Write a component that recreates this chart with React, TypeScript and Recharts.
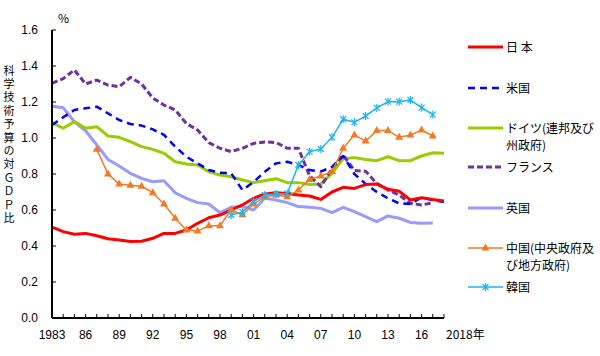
import { LineChart, Line, XAxis, YAxis } from "recharts";

const years = [
  1983, 1984, 1985, 1986, 1987, 1988, 1989, 1990, 1991, 1992, 1993, 1994,
  1995, 1996, 1997, 1998, 1999, 2000, 2001, 2002, 2003, 2004, 2005, 2006,
  2007, 2008, 2009, 2010, 2011, 2012, 2013, 2014, 2015, 2016, 2017, 2018,
];

const japan = [
  0.505, 0.48, 0.465, 0.47, 0.457, 0.44, 0.433, 0.425, 0.426, 0.443, 0.47, 0.47,
  0.489, 0.526, 0.557, 0.572, 0.6, 0.628, 0.665, 0.689, 0.696, 0.692, 0.683, 0.678,
  0.659, 0.7, 0.726, 0.72, 0.741, 0.744, 0.715, 0.704, 0.656, 0.668, 0.658, 0.65,
];
const usa = [
  1.072, 1.115, 1.156, 1.165, 1.174, 1.137, 1.1, 1.078, 1.069, 1.048, 1.017, 0.952,
  0.896, 0.859, 0.822, 0.807, 0.804, 0.711, 0.755, 0.813, 0.859, 0.868, 0.85, 0.822,
  0.813, 0.84, 0.9, 0.8, 0.745, 0.7, 0.665, 0.637, 0.633, 0.67, 0.655, 0.645,
];
const germany = [
  1.085, 1.054, 1.091, 1.054, 1.063, 1.011, 1.004, 0.98, 0.952, 0.937, 0.915, 0.868,
  0.856, 0.85, 0.813, 0.794, 0.785, 0.767, 0.752, 0.763, 0.774, 0.752, 0.752, 0.742,
  0.744, 0.804, 0.885, 0.891, 0.881, 0.874, 0.896, 0.874, 0.874, 0.9, 0.918, 0.915,
];
const france = [
  1.304, 1.33, 1.378, 1.3, 1.322, 1.294, 1.285, 1.337, 1.3, 1.222, 1.183, 1.156,
  1.08, 1.044, 0.974, 0.943, 0.924, 0.943, 0.97, 0.978, 0.975, 0.943, 0.943, 0.79,
  0.73, 0.83, 0.905, 0.82, 0.815, 0.748, 0.711, 0.683, 0.637, 0.628, 0.64, null,
];
const uk = [
  1.176, 1.168, 1.09, 1.04, 0.961, 0.881, 0.844, 0.804, 0.776, 0.757, 0.763, 0.696,
  0.665, 0.641, 0.633, 0.585, 0.615, 0.619, 0.6, 0.665, 0.656, 0.641, 0.619, 0.615,
  0.609, 0.585, 0.615, 0.591, 0.563, 0.535, 0.567, 0.554, 0.531, 0.526, 0.528, null,
];
const china = [
  null, null, null, null, 0.937, 0.8, 0.744, 0.738, 0.732, 0.696, 0.633, 0.554,
  0.489, 0.483, 0.513, 0.513, 0.6, 0.574, 0.633, 0.674, 0.683, 0.674, 0.711, 0.77,
  0.789, 0.813, 0.943, 1.017, 0.983, 1.041, 1.041, 1.004, 1.017, 1.044, 1.011, null,
];
const korea = [
  null, null, null, null, null, null, null, null, null, null, null, null,
  null, null, null, null, 0.572, 0.588, 0.648, 0.683, 0.689, 0.692, 0.85, 0.924,
  0.939, 1.004, 1.104, 1.087, 1.122, 1.167, 1.202, 1.202, 1.211, 1.169, 1.13, null,
];

const xLabelYears = [1983, 1986, 1989, 1992, 1995, 1998, 2001, 2004, 2007, 2010, 2013, 2016, 2018];
const xLabels = ["1983", "86", "89", "92", "95", "98", "01", "04", "07", "10", "13", "16", "2018年"];
const yTicks = [0, 0.2, 0.4, 0.6, 0.8, 1.0, 1.2, 1.4, 1.6];
const yTitle = "科学技術予算の対ＧＤＰ比";

const data = years.map((year, i) => ({
  year,
  japan: japan[i],
  usa: usa[i],
  germany: germany[i],
  france: france[i],
  uk: uk[i],
  china: china[i],
  korea: korea[i],
}));

const NUM_FONT = '"Liberation Sans Narrow", "Liberation Sans", Arial, sans-serif';
const JP_FONT = '"Noto Sans CJK JP", sans-serif';

function triangle(cx: number, cy: number, color: string, key?: any) {
  return (
    <path key={key} d={`M${cx},${cy - 4.5} L${cx + 4},${cy + 2.5} L${cx - 4},${cy + 2.5} Z`} fill={color} />
  );
}

function asterisk(cx: number, cy: number, color: string, key?: any) {
  return (
    <g key={key} stroke={color} strokeWidth={1.2}>
      <line x1={cx - 3} y1={cy - 3} x2={cx + 3} y2={cy + 3} />
      <line x1={cx - 3} y1={cy + 3} x2={cx + 3} y2={cy - 3} />
      <line x1={cx} y1={cy - 4} x2={cx} y2={cy + 4} />
    </g>
  );
}

const series = [
  { key: "uk", label: ["英国"], color: "#9999FF", width: 3, dash: undefined, marker: null, ly: 208 },
  { key: "germany", label: ["ドイツ(連邦及び", "州政府)"], color: "#99CC00", width: 3, dash: undefined, marker: null, ly: 128 },
  { key: "france", label: ["フランス"], color: "#7030A0", width: 3, dash: "6 3", marker: null, ly: 167 },
  { key: "usa", label: ["米国"], color: "#0000FF", width: 2.5, dash: "7 5", marker: null, ly: 88 },
  { key: "japan", label: ["日 本"], color: "#FF0000", width: 3, dash: undefined, marker: null, ly: 47 },
  { key: "china", label: ["中国(中央政府及", "び地方政府)"], color: "#F47920", width: 1.5, dash: undefined, marker: triangle, ly: 248 },
  { key: "korea", label: ["韓国"], color: "#1EB4EE", width: 1.5, dash: undefined, marker: asterisk, ly: 287 },
];

function XTick({ x, y, payload }: any) {
  const idx = xLabelYears.indexOf(payload.value);
  const label = idx >= 0 ? xLabels[idx] : "";
  const last = payload.value === 2018;
  return (
    <g>
      <line x1={x} y1={y} x2={x} y2={y - 4} stroke="#000" strokeWidth={1} />
      {label && (
        <text
          x={last ? x + 2 : x}
          y={y + 21}
          textAnchor={last ? "start" : "middle"}
          fontSize={12}
          fontFamily={last ? JP_FONT : NUM_FONT}
          fill="#000"
        >
          {label}
        </text>
      )}
    </g>
  );
}

function YTick({ x, y, payload }: any) {
  return (
    <g>
      <line x1={x} y1={y} x2={x + 4} y2={y} stroke="#000" strokeWidth={1} />
      <text x={x - 14} y={y + 4} textAnchor="end" fontSize={12} fontFamily={NUM_FONT} fill="#000">
        {payload.value.toFixed(1)}
      </text>
    </g>
  );
}

export default function App() {
  return (
    <div style={{ position: "relative", width: 600, height: 356, background: "#fff" }}>
      <style>{"body{margin:0}"}</style>
      <LineChart width={600} height={356} data={data} margin={{ top: 30, right: 156, bottom: 0, left: 22 }}>
        <XAxis
          dataKey="year"
          type="number"
          domain={[1983, 2018]}
          ticks={years}
          interval={0}
          height={38}
          tickSize={0}
          tickMargin={0}
          tickLine={false}
          axisLine={{ stroke: "#000", strokeWidth: 2 }}
          tick={<XTick />}
        />
        <YAxis
          type="number"
          domain={[0, 1.6]}
          ticks={yTicks}
          width={30}
          tickSize={0}
          tickMargin={0}
          tickLine={false}
          axisLine={{ stroke: "#000", strokeWidth: 2 }}
          tick={<YTick />}
        />
        {series.map((s) => (
          <Line
            key={s.key}
            dataKey={s.key}
            stroke={s.color}
            strokeWidth={s.width}
            strokeDasharray={s.dash}
            strokeLinejoin="round"
            dot={
              s.marker
                ? (p: any) =>
                    p.cx == null || p.cy == null || p.value == null
                      ? <g key={p.index} />
                      : s.marker!(p.cx, p.cy, s.color, p.index)
                : false
            }
            activeDot={false}
            isAnimationActive={false}
          />
        ))}
      </LineChart>

      <div style={{ position: "absolute", left: 58, top: 9, fontSize: 12, fontFamily: JP_FONT }}>%</div>

      <div
        style={{
          position: "absolute",
          left: 2,
          top: 65,
          width: 14,
          fontSize: 11,
          lineHeight: "14px",
          fontFamily: JP_FONT,
          writingMode: "vertical-rl",
          textOrientation: "upright",
          letterSpacing: "2.4px",
          whiteSpace: "nowrap",
        }}
      >
        {yTitle}
      </div>

      {series.map((s) => (
        <div key={s.key} style={{ position: "absolute", left: 466, top: s.ly - 9, fontFamily: JP_FONT, fontSize: 12 }}>
          <svg width={40} height={18} style={{ position: "absolute", left: 0, top: 0 }}>
            <line x1={2} y1={9} x2={37} y2={9} stroke={s.color} strokeWidth={s.width} strokeDasharray={s.dash} />
            {s.marker && s.marker(19.5, 9, s.color)}
          </svg>
          <div style={{ position: "absolute", left: 40, top: 0, lineHeight: "17px", whiteSpace: "nowrap" }}>
            {s.label.map((t, i) => (
              <div key={i}>{t}</div>
            ))}
          </div>
        </div>
      ))}
    </div>
  );
}
